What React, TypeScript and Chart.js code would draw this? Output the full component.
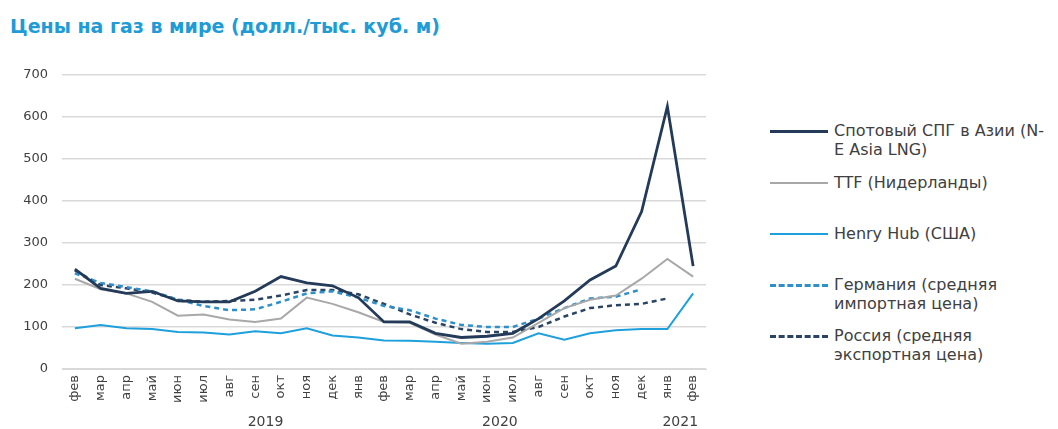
import React, { useEffect, useRef } from "react";
import { Chart, registerables } from "chart.js";

Chart.register(...registerables);

const titleText = "Цены на газ в мире (долл./тыс. куб. м)";

const months = [
  "фев", "мар", "апр", "май", "июн", "июл", "авг", "сен", "окт", "ноя", "дек",
  "янв", "фев", "мар", "апр", "май", "июн", "июл", "авг", "сен", "окт", "ноя", "дек",
  "янв", "фев",
];

const yearLabels = ["2019", "2020", "2021"];
const yearCenters = [7.4, 16.5, 23.5];

const asiaLng = [238, 192, 180, 185, 162, 160, 160, 185, 220, 205, 198, 170, 112, 112, 85, 75, 78, 85, 120, 162, 212, 245, 375, 625, 245];
const ttf = [215, 190, 180, 160, 127, 130, 118, 112, 120, 170, 155, 135, 112, 110, 82, 60, 65, 75, 110, 145, 165, 175, 215, 262, 220];
const henryHub = [97, 105, 97, 95, 88, 87, 82, 90, 85, 97, 80, 75, 68, 67, 65, 62, 60, 62, 85, 70, 85, 92, 95, 95, 180];
const germany = [228, 205, 195, 185, 165, 150, 140, 142, 160, 180, 185, 170, 150, 140, 120, 105, 100, 100, 120, 145, 168, 172, 190, null, null];
const russia = [235, 200, 192, 182, 165, 160, 162, 165, 175, 188, 188, 178, 155, 130, 110, 95, 88, 88, 100, 125, 145, 152, 155, 168, null];

const seriesNames = [
  "Спотовый СПГ в Азии (N-E Asia LNG)",
  "TTF (Нидерланды)",
  "Henry Hub (США)",
  "Германия (средняя импортная цена)",
  "Россия (средняя экспортная цена)",
];

const legendItems = [
  { lines: ["Спотовый СПГ в Азии (N-", "E Asia LNG)"], color: "#233a58", dash: false, width: 3, top: 121 },
  { lines: ["TTF (Нидерланды)"], color: "#a8a8a8", dash: false, width: 2, top: 173 },
  { lines: ["Henry Hub (США)"], color: "#1ea0dc", dash: false, width: 2, top: 224 },
  { lines: ["Германия (средняя", "импортная цена)"], color: "#2f90c9", dash: true, width: 3, top: 275 },
  { lines: ["Россия (средняя", "экспортная цена)"], color: "#2b4463", dash: true, width: 3, top: 326 },
];

const FONT = "'DejaVu Sans', 'Liberation Sans', Arial, sans-serif";

const yearPlugin = {
  id: "yearLabels",
  afterDraw(chart: any) {
    const x = chart.scales.x;
    const ctx = chart.ctx;
    ctx.save();
    ctx.font = `14px ${FONT}`;
    ctx.fillStyle = "#404040";
    ctx.textAlign = "center";
    ctx.textBaseline = "middle";
    yearLabels.forEach((lab, i) => {
      ctx.fillText(lab, x.getPixelForValue(yearCenters[i]), x.bottom - 7);
    });
    ctx.restore();
  },
};

export default function App() {
  const ref = useRef<HTMLCanvasElement>(null);

  useEffect(() => {
    if (!ref.current) return;
    const chart = new Chart(ref.current, {
      type: "line",
      data: {
        labels: months,
        datasets: [
          { label: seriesNames[0], data: asiaLng, borderColor: "#233a58", borderWidth: 2.8 },
          { label: seriesNames[1], data: ttf, borderColor: "#a8a8a8", borderWidth: 2 },
          { label: seriesNames[2], data: henryHub, borderColor: "#1ea0dc", borderWidth: 2 },
          { label: seriesNames[3], data: germany, borderColor: "#2f90c9", borderWidth: 2.5, borderDash: [5, 4] },
          { label: seriesNames[4], data: russia, borderColor: "#2b4463", borderWidth: 2.5, borderDash: [5, 4] },
        ].map((d) => ({ ...d, pointRadius: 0, tension: 0, fill: false, spanGaps: false })),
      },
      options: {
        responsive: false,
        maintainAspectRatio: false,
        animation: false,
        layout: { padding: { top: 75, right: 14, left: 0, bottom: 0 } },
        plugins: { legend: { display: false }, tooltip: { enabled: false }, title: { display: false } },
        scales: {
          x: {
            offset: true,
            grid: { display: false, drawTicks: false },
            border: { display: true, color: "#d9d9d9", width: 1 },
            ticks: {
              minRotation: 90,
              maxRotation: 90,
              autoSkip: false,
              padding: 6,
              color: "#404040",
              font: { family: FONT, size: 13 },
            },
            afterFit: (s: any) => { s.height = 60; },
          },
          y: {
            min: 0,
            max: 700,
            ticks: {
              stepSize: 100,
              padding: 14,
              color: "#404040",
              font: { family: FONT, size: 13 },
            },
            grid: { color: "#d9d9d9", lineWidth: 1.5, drawTicks: false },
            border: { display: false },
            afterFit: (s: any) => { s.width = 62; },
          },
        },
      },
      plugins: [yearPlugin],
    });
    return () => chart.destroy();
  }, []);

  return (
    <div style={{ position: "absolute", left: 0, top: 0, width: 1058, height: 429, background: "#fff", overflow: "hidden" }}>
      <div
        style={{
          position: "absolute",
          left: 10,
          top: 15,
          fontFamily: FONT,
          fontWeight: "bold",
          fontSize: 19,
          color: "#219bd6",
          whiteSpace: "nowrap",
        }}
      >
        {titleText}
      </div>
      <canvas ref={ref} width={720} height={429} style={{ position: "absolute", left: 0, top: 0 }} />
      {legendItems.map((it, i) => (
        <div key={i} style={{ position: "absolute", left: 770, top: it.top, width: 288 }}>
          <div
            style={{
              position: "absolute",
              left: 0,
              top: 10 - it.width / 2,
              width: 58,
              height: 0,
              borderTop: `${it.width}px ${it.dash ? "dashed" : "solid"} ${it.color}`,
            }}
          />
          <div
            style={{
              position: "absolute",
              left: 64,
              top: 0,
              fontFamily: FONT,
              fontSize: 16,
              lineHeight: "19px",
              color: "#404040",
              whiteSpace: "nowrap",
            }}
          >
            {it.lines.map((l, j) => (
              <div key={j}>{l}</div>
            ))}
          </div>
        </div>
      ))}
    </div>
  );
}
